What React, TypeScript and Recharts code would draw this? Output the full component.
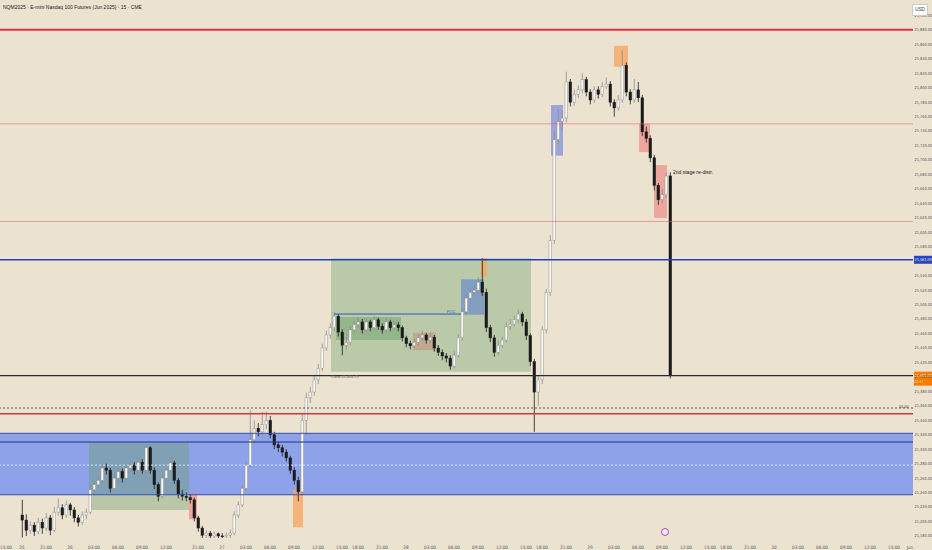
import React from "react";
import {
  ComposedChart,
  Bar,
  XAxis,
  YAxis,
  ReferenceLine,
  ReferenceArea,
  ReferenceDot,
} from "recharts";

// NQ 30-min candles (slot index = 30-min bar since Sunday 18:00 open)
const firstOpen = 21209;
const closes = [
  21202, 21188, 21195, 21186, 21199, 21191, 21205, 21188, 21213, 21219,
  21209, 21223, 21216, 21205, 21199, 21209, 21213, 21244, 21251, 21257,
  21274, 21271, 21246, 21260, 21269, 21260, 21274, 21278, 21271, 21282,
  21271, 21302, 21271, 21251, 21235, 21260, 21271, 21281, 21257, 21238,
  21235, 21233, 21230, 21205, 21191, 21181, 21184, 21180, 21183, 21180,
  21179, 21181, 21184, 21209, 21223, 21246, 21278, 21313, 21329, 21324,
  21334, 21340, 21320, 21306, 21302, 21296, 21288, 21271, 21257, 21241,
  21340, 21371, 21379, 21396, 21412, 21440, 21458, 21468, 21484, 21462,
  21444, 21448, 21465, 21472, 21476, 21465, 21476, 21468, 21479, 21470,
  21465, 21476, 21468, 21472, 21468, 21454, 21446, 21443, 21448, 21454,
  21458, 21451, 21455, 21440, 21434, 21429, 21426, 21415, 21430, 21454,
  21490, 21509, 21517, 21520, 21531, 21517, 21468, 21454, 21434, 21444,
  21451, 21470, 21473, 21479, 21487, 21476, 21457, 21421, 21379, 21396,
  21465, 21517, 21589, 21728, 21753, 21758, 21808, 21780, 21791, 21797,
  21811, 21794, 21783, 21797, 21791, 21802, 21805, 21780, 21772, 21783,
  21831, 21794, 21783, 21797, 21786, 21739, 21730, 21703, 21665, 21645,
  21652, 21678, 21401.75,
];
const highs = [
  21230, 21210, 21200, 21199, 21205, 21204, 21212, 21209, 21220, 21232,
  21224, 21229, 21226, 21220, 21209, 21214, 21218, 21250, 21258, 21264,
  21281, 21280, 21274, 21266, 21276, 21273, 21279, 21284, 21282, 21288,
  21286, 21307, 21304, 21275, 21254, 21265, 21276, 21288, 21284, 21260,
  21244, 21240, 21238, 21233, 21208, 21194, 21188, 21187, 21186, 21185,
  21184, 21185, 21189, 21214, 21228, 21250, 21283, 21354, 21340, 21336,
  21352, 21352, 21346, 21324, 21310, 21306, 21300, 21291, 21275, 21262,
  21348, 21378, 21386, 21402, 21418, 21446, 21464, 21474, 21490, 21487,
  21466, 21454, 21470, 21477, 21482, 21480, 21481, 21479, 21484, 21482,
  21474, 21481, 21479, 21477, 21476, 21471, 21457, 21450, 21453, 21459,
  21464, 21461, 21462, 21458, 21444, 21438, 21433, 21430, 21436, 21459,
  21495, 21514, 21523, 21527, 21538, 21564, 21522, 21472, 21458, 21450,
  21456, 21475, 21480, 21485, 21493, 21490, 21480, 21460, 21425, 21402,
  21470, 21522, 21596, 21740, 21770, 21768, 21822, 21812, 21797, 21803,
  21820, 21815, 21798, 21802, 21802, 21808, 21814, 21809, 21784, 21790,
  21852, 21835, 21798, 21812, 21808, 21790, 21746, 21734, 21707, 21668,
  21660, 21683, 21683,
];
const lows = [
  21178, 21180, 21183, 21180, 21182, 21183, 21187, 21181, 21185, 21208,
  21203, 21205, 21208, 21199, 21193, 21195, 21203, 21210, 21240, 21246,
  21253, 21265, 21240, 21242, 21255, 21254, 21257, 21268, 21265, 21267,
  21266, 21268, 21266, 21245, 21228, 21232, 21256, 21268, 21252, 21232,
  21229, 21228, 21225, 21200, 21186, 21176, 21177, 21176, 21177, 21176,
  21175, 21176, 21177, 21181, 21205, 21220, 21243, 21274, 21308, 21318,
  21318, 21328, 21315, 21300, 21296, 21290, 21283, 21266, 21251, 21228,
  21236, 21318, 21364, 21374, 21390, 21408, 21436, 21453, 21463, 21456,
  21430, 21438, 21444, 21460, 21468, 21460, 21461, 21463, 21464, 21465,
  21460, 21461, 21463, 21464, 21463, 21449, 21441, 21438, 21439, 21444,
  21450, 21446, 21447, 21435, 21429, 21423, 21420, 21410, 21412, 21427,
  21450, 21485, 21503, 21511, 21515, 21512, 21462, 21448, 21428, 21430,
  21440, 21447, 21465, 21469, 21474, 21470, 21451, 21415, 21324, 21360,
  21390, 21460, 21512, 21584, 21722, 21740, 21752, 21774, 21775, 21786,
  21792, 21788, 21777, 21779, 21785, 21787, 21798, 21774, 21760, 21768,
  21779, 21788, 21777, 21779, 21780, 21733, 21724, 21697, 21658, 21638,
  21640, 21648, 21398,
];

const tickSlots = [
  -4, 0, 6, 12, 18, 24, 30, 36, 44, 50, 56, 62, 68, 74, 80, 84, 90, 96, 102,
  108, 114, 120, 126, 130, 136, 142, 148, 154, 160, 166, 172, 176, 182, 188,
  194, 200, 206, 212, 218, 222,
];
const tickLabels = [
  "15:00", "25", "21:00", "26", "03:00", "06:00", "09:00", "12:00", "21:00",
  "27", "03:00", "06:00", "09:00", "12:00", "15:00", "18:00", "21:00", "28",
  "03:00", "06:00", "09:00", "12:00", "15:00", "18:00", "21:00", "29",
  "03:00", "06:00", "09:00", "12:00", "15:00", "18:00", "21:00", "30",
  "03:00", "06:00", "09:00", "12:00", "15:00", "Jun",
];

const priceTicks = Array.from({ length: 37 }, (_, i) => 21180 + i * 20);

const data = closes.map((c, i) => ({
  t: i,
  o: i === 0 ? firstOpen : closes[i - 1],
  h: highs[i],
  l: lows[i],
  c,
  range: [lows[i], highs[i]],
}));

const BG = "#ece2d0";
const NARROW = "Liberation Sans Narrow, DejaVu Sans Condensed, sans-serif";
const fmt = (v: number) =>
  v.toLocaleString("en-US", { minimumFractionDigits: 2, maximumFractionDigits: 2 });

const Candle = (props: any) => {
  const { x, y, width, height, payload } = props;
  if (!payload) return null;
  const { o, h, l, c } = payload;
  const top = Math.min(y, y + height);
  const hgt = Math.abs(height);
  const ratio = h === l ? 0 : hgt / (h - l);
  const yO = top + (h - o) * ratio;
  const yC = top + (h - c) * ratio;
  const up = c >= o;
  const cx = x + width / 2;
  const bodyTop = Math.min(yO, yC);
  const bodyH = Math.max(Math.abs(yO - yC), 0.8);
  const col = up ? "#8e8e8e" : "#1b1b1b";
  return (
    <g>
      <line x1={cx} x2={cx} y1={top} y2={top + hgt} stroke={col} strokeWidth={0.8} />
      <rect
        x={x}
        y={bodyTop}
        width={width}
        height={bodyH}
        fill={up ? "#fbfaf6" : "#1b1b1b"}
        stroke={col}
        strokeWidth={0.5}
      />
    </g>
  );
};

const axisTag = (text: string, bg: string, sub?: string) => (props: any) => {
  const vb = props.viewBox || {};
  const right = (vb.x || 0) + (vb.width || 0);
  const yy = vb.y || 0;
  const h = sub ? 14 : 8;
  return (
    <g>
      <rect x={right + 1} y={yy - 4} width={18} height={h} fill={bg} />
      <text x={right + 1.5} y={yy + 1.6} fontSize={3.8} fill="#fff" fontFamily={NARROW}>
        {text}
      </text>
      {sub && (
        <text x={right + 1.5} y={yy + 7.2} fontSize={3.5} fill="#fde3c8" fontFamily={NARROW}>
          {sub}
        </text>
      )}
    </g>
  );
};

const small: React.CSSProperties = {
  position: "absolute",
  fontFamily: "Liberation Sans, Arial, sans-serif",
  whiteSpace: "nowrap",
  lineHeight: 1,
};

export default function App() {
  return (
    <div
      style={{
        position: "fixed",
        left: 0,
        top: 0,
        width: 932,
        height: 550,
        background: BG,
        overflow: "hidden",
      }}
    >
      <ComposedChart
        width={932}
        height={550}
        data={data}
        margin={{ top: 0, right: 0, bottom: 0, left: 0 }}
      >
        <XAxis
          type="number"
          dataKey="t"
          domain={[-5.5, 222.75]}
          allowDataOverflow
          ticks={tickSlots}
          interval={0}
          tickFormatter={(v: number) => tickLabels[tickSlots.indexOf(v)] ?? ""}
          tick={{ fontSize: 4.6, fill: "#555", fontFamily: NARROW }}
          tickLine={false}
          axisLine={false}
          tickMargin={2}
          height={12}
        />
        <YAxis
          orientation="right"
          type="number"
          domain={[21177.2, 21921.3]}
          allowDataOverflow
          ticks={priceTicks}
          interval={0}
          tickFormatter={fmt}
          tick={{ fontSize: 3.9, fill: "#555", fontFamily: NARROW }}
          tickLine={false}
          axisLine={false}
          tickSize={0}
          tickMargin={1.5}
          width={19}
        />

        {/* demand zone */}
        <ReferenceArea y1={21237} y2={21322} fill="#8da2e8" fillOpacity={1} stroke="none" />
        {/* boxes */}
        <ReferenceArea x1={16.75} x2={41.75} y1={21216} y2={21309} fill="#6fa06a" fillOpacity={0.4} stroke="none" />
        <ReferenceArea x1={41.75} x2={43.75} y1={21203} y2={21239} fill="#ec6a6a" fillOpacity={0.5} stroke="none" />
        <ReferenceArea x1={67.75} x2={70.25} y1={21192} y2={21244} fill="#f7a35c" fillOpacity={0.75} stroke="none" />
        <ReferenceArea x1={77.25} x2={127.25} y1={21407} y2={21564} fill="#7fae7a" fillOpacity={0.45} stroke="none" />
        <ReferenceArea x1={78.5} x2={94.75} y1={21451} y2={21483} fill="#4f8f52" fillOpacity={0.35} stroke="none" />
        <ReferenceArea x1={97.75} x2={103.5} y1={21437} y2={21461} fill="#c9705a" fillOpacity={0.35} stroke="none" />
        <ReferenceArea x1={109.75} x2={115.5} y1={21486} y2={21535} fill="#4a72d8" fillOpacity={0.5} stroke="none" />
        <ReferenceArea x1={114.75} x2={116.25} y1={21538} y2={21564} fill="#f7a35c" fillOpacity={0.75} stroke="none" />
        <ReferenceArea x1={132.25} x2={135.25} y1={21706} y2={21776} fill="#5a72e0" fillOpacity={0.55} stroke="none" />
        <ReferenceArea x1={148} x2={151.5} y1={21829} y2={21858} fill="#f7a35c" fillOpacity={0.75} stroke="none" />
        <ReferenceArea x1={154.25} x2={157} y1={21711} y2={21750} fill="#ec6a6a" fillOpacity={0.5} stroke="none" />
        <ReferenceArea x1={158} x2={161.25} y1={21620} y2={21693} fill="#ec6a6a" fillOpacity={0.5} stroke="none" />

        <ReferenceLine y={21322} stroke="#3550b0" strokeWidth={1} />
        <ReferenceLine y={21237} stroke="#3550b0" strokeWidth={1} />
        <ReferenceLine y={21310} stroke="#1f2f80" strokeWidth={1.2} />
        <ReferenceLine y={21278} stroke="#dfe6ff" strokeWidth={1} strokeDasharray="2 2" />

        <Bar
          dataKey="range"
          barSize={2.6}
          shape={(p: any) => <Candle {...p} />}
          isAnimationActive={false}
        />

        <ReferenceLine
          segment={[
            { x: 78, y: 21487 },
            { x: 109.75, y: 21487 },
          ]}
          stroke="#2a52c8"
          strokeWidth={1}
        />
        <ReferenceLine y={21880} stroke="#e2323c" strokeWidth={2} />
        <ReferenceLine y={21750} stroke="#e06565" strokeOpacity={0.7} strokeWidth={0.8} />
        <ReferenceLine y={21615} stroke="#e06565" strokeOpacity={0.7} strokeWidth={0.8} />
        <ReferenceLine
          y={21562}
          stroke="#1e40c8"
          strokeWidth={1.5}
          label={{ content: axisTag("21,562.00", "#2343c8") }}
        />
        <ReferenceLine
          y={21401.75}
          stroke="#2b2b2b"
          strokeWidth={1.4}
          label={{ content: axisTag("21,401.75", "#f57c00", "02:37") }}
        />
        <ReferenceLine y={21357} stroke="#333" strokeWidth={0.8} strokeDasharray="2 2" />
        <ReferenceLine y={21349} stroke="#e0303a" strokeWidth={1.5} />

        <ReferenceDot
          x={160.75}
          y={21185.5}
          r={3.5}
          fill="#f1e6f4"
          stroke="#9c27b0"
          strokeWidth={0.8}
        />
      </ComposedChart>

      <div style={{ ...small, left: 3, top: 5, fontSize: 5, color: "#222" }}>
        NQM2025 · E-mini Nasdaq 100 Futures (Jun 2025) · 15 · CME
      </div>
      <div
        style={{
          ...small,
          left: 912,
          top: 4,
          width: 14,
          height: 10,
          background: "#fff",
          border: "0.5px solid #ccc",
          fontSize: 4.5,
          color: "#333",
          textAlign: "center",
          lineHeight: "10px",
        }}
      >
        USD
      </div>
      <div style={{ ...small, left: 673, top: 170, fontSize: 5, color: "#111" }}>
        2nd stage re-distr.
      </div>
      <div style={{ ...small, left: 331, top: 376, fontSize: 3.8, color: "#666" }}>
        Close 21,401.75
      </div>
      <div style={{ ...small, left: 447, top: 311, fontSize: 3.8, color: "#2a52c8" }}>
        POC
      </div>
      <div style={{ ...small, left: 899, top: 406, fontSize: 3.8, color: "#444" }}>
        55.00
      </div>
    </div>
  );
}
